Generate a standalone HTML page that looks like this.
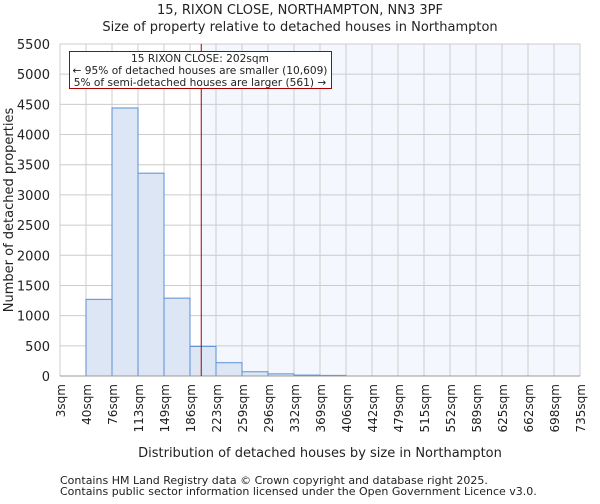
<!DOCTYPE html>
<html><head><meta charset="utf-8"><style>
body{margin:0;background:#fff;font-family:"DejaVu Sans","Liberation Sans",sans-serif;}
svg text{font-family:"DejaVu Sans","Liberation Sans",sans-serif;fill:#222;}
</style></head><body>
<svg id="chart" width="600" height="500" xmlns="http://www.w3.org/2000/svg">
<g id="grid"></g>
<g id="bars"></g>
<g id="axes"></g>
<text x="300" y="14" text-anchor="middle" font-size="13">15, RIXON CLOSE, NORTHAMPTON, NN3 3PF</text>
<text x="300" y="31" text-anchor="middle" font-size="13">Size of property relative to detached houses in Northampton</text>
<text x="320" y="457" text-anchor="middle" font-size="13">Distribution of detached houses by size in Northampton</text>
<text transform="translate(13,210) rotate(-90)" text-anchor="middle" font-size="13">Number of detached properties</text>
<text x="60" y="484" font-size="11" fill="#444">Contains HM Land Registry data © Crown copyright and database right 2025.</text>
<text x="60" y="495" font-size="11" fill="#444">Contains public sector information licensed under the Open Government Licence v3.0.</text>
</svg>
<script>
const categories=["3sqm","40sqm","76sqm","113sqm","149sqm","186sqm","223sqm","259sqm","296sqm","332sqm","369sqm","406sqm","442sqm","479sqm","515sqm","552sqm","589sqm","625sqm","662sqm","698sqm","735sqm"];
const counts=[0,1270,4440,3360,1290,490,220,70,35,15,10,0,0,0,0,0,0,0,0,0];
const yTicks=[0,500,1000,1500,2000,2500,3000,3500,4000,4500,5000,5500];
const propertySize=202;
const binStart=[3,40,76,113,149,186,223,259,296,332,369,406,442,479,515,552,589,625,662,698,735];
const X0=60,X1=580,Y0=376,Y1=44,YMAX=5500;
const NS="http://www.w3.org/2000/svg";
const bw=(X1-X0)/counts.length;
const xs=i=>X0+i*bw;
const ys=v=>Y0-(v/YMAX)*(Y0-Y1);
function sizeX(s){for(let i=0;i<binStart.length-1;i++){if(s<=binStart[i+1])return xs(i)+(s-binStart[i])/(binStart[i+1]-binStart[i])*bw;}return X1;}
function mk(t,a,p){const e=document.createElementNS(NS,t);for(const k in a)e.setAttribute(k,a[k]);p.appendChild(e);return e;}
const grid=document.getElementById('grid'),bars=document.getElementById('bars'),axes=document.getElementById('axes');
const px=sizeX(propertySize);
const shade=mk('rect',{x:px,y:Y1,width:X1-px,height:Y0-Y1,fill:'#f4f7fd'},grid);


categories.forEach((c,i)=>{
 const x=xs(i);
 const l=mk('line',{x1:x,x2:x,y1:Y1,y2:Y0,stroke:'#cccccc','stroke-width':1},grid);
 
 
 const t=mk('text',{transform:`translate(${x+5},${Y0+8}) rotate(-90)`,'text-anchor':'end','font-size':12},axes);
 t.textContent=c;
 
 
});
yTicks.forEach(v=>{
 const y=ys(v);
 const l=mk('line',{x1:X0,x2:X1,y1:y,y2:y,stroke:'#cccccc','stroke-width':1},grid);
 
 
 const t=mk('text',{x:X0-10,y:y+5,'text-anchor':'end','font-size':13},axes);
 t.textContent=v;
 
 
});
counts.forEach((v,i)=>{
 if(v<=0)return;
 const r=mk('rect',{x:xs(i),y:ys(v),width:bw,height:Y0-ys(v),fill:'#dce6f4',stroke:'#5b8fd4','stroke-width':1},bars);
 
 
});
const ax=mk('line',{x1:X0,x2:X1,y1:Y0,y2:Y0,stroke:'#999','stroke-width':1},axes);


const pl=mk('line',{x1:px,x2:px,y1:Y1,y2:Y0,stroke:'#aa0000','stroke-width':1},axes);


const g=mk('g',{},axes);


mk('rect',{x:69.5,y:51.5,width:262,height:37,fill:'#fff',stroke:'#aa0000','stroke-width':1},g);
[["15 RIXON CLOSE: 202sqm",62],["← 95% of detached houses are smaller (10,609)",74],["5% of semi-detached houses are larger (561) →",86]].forEach(([s,y])=>{
 const t=mk('text',{x:200,y:y,'text-anchor':'middle','font-size':10.6},g);
 t.textContent=s;
 
 
});
</script>
</body></html>
